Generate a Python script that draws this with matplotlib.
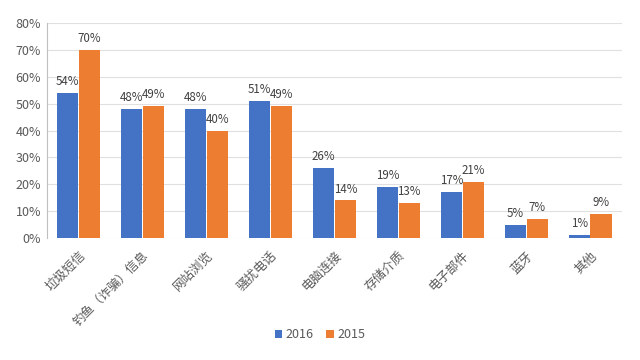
import matplotlib
import matplotlib.pyplot as plt
import numpy as np

matplotlib.use('Agg')
plt.rcParams['font.family'] = ['Noto Sans CJK SC', 'DejaVu Sans']

categories = ["垃圾短信", "钓鱼（诈骗）信息", "网站浏览", "骚扰电话", "电脑连接",
              "存储介质", "电子部件", "蓝牙", "其他"]
values_2016 = [54, 48, 48, 51, 26, 19, 17, 5, 1]
values_2015 = [70, 49, 40, 49, 14, 13, 21, 7, 9]
y_ticks = [0, 10, 20, 30, 40, 50, 60, 70, 80]

blue = '#4472C4'
orange = '#ED7D31'
grey_text = '#595959'

fig = plt.figure(figsize=(6.4, 3.6), dpi=100)
ax = fig.add_axes([0.073, 0.339, 0.899, 0.597])

x = np.arange(len(categories))
w = 0.33
b1 = ax.bar(x - w / 2 - 0.005, values_2016, w, color=blue, label='2016', zorder=3)
b2 = ax.bar(x + w / 2 + 0.005, values_2015, w, color=orange, label='2015', zorder=3)

for bars, vals in ((b1, values_2016), (b2, values_2015)):
    for bar, v in zip(bars, vals):
        ax.text(bar.get_x() + bar.get_width() / 2, v + 1.8, f"{v}%",
                ha='center', va='bottom', fontsize=8.3, color='#404040')

ax.set_xlim(-0.5, len(categories) - 0.5)
ax.set_ylim(0, 80)
ax.set_yticks(y_ticks)
ax.set_yticklabels([f"{t}%" for t in y_ticks])
ax.grid(axis='y', color='#E0E0E0', linewidth=0.8, zorder=0)
ax.set_xticks(x)
ax.set_xticklabels(categories, rotation=45, ha='right', rotation_mode='anchor')
ax.tick_params(axis='both', length=0, labelsize=9, colors=grey_text)
ax.tick_params(axis='x', pad=8)
ax.tick_params(axis='y', pad=4)

for s in ('top', 'right', 'bottom'):
    ax.spines[s].set_visible(False)
ax.spines['left'].set_color('#BFBFBF')

fig.legend(handles=[b1, b2], loc='center', bbox_to_anchor=(0.5, 0.07), ncol=2,
           frameon=False, fontsize=9, handlelength=0.6, handleheight=0.6,
           handletextpad=0.3, columnspacing=1.0, labelcolor=grey_text)

fig.savefig('out.png', dpi=100)
